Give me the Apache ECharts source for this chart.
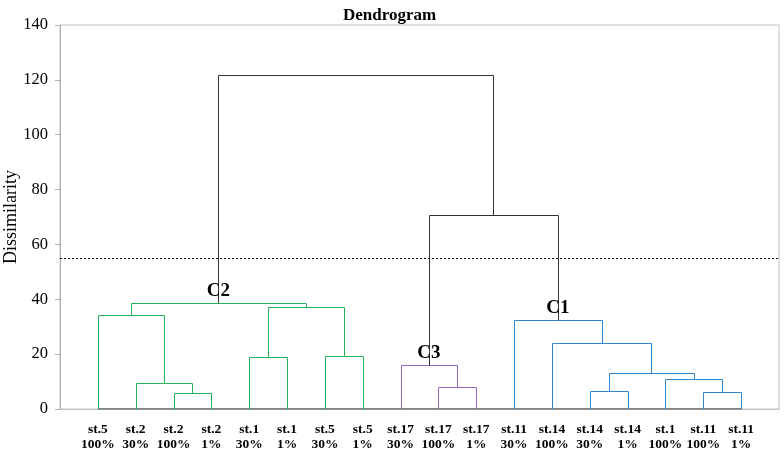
<!DOCTYPE html>
<html>
<head>
<meta charset="utf-8">
<script src="https://cdn.jsdelivr.net/npm/echarts@6/dist/echarts.min.js"></script>
<style>
html,body{margin:0;padding:0;background:#fff;}
#c{width:784px;height:451px;}
</style>
</head>
<body>
<div id="c"></div>
<script>
// Leaves in display order (two-line labels)
var leafNames = ['st.5','st.2','st.2','st.2','st.1','st.1','st.5','st.5','st.17','st.17','st.17','st.11','st.14','st.14','st.14','st.1','st.11','st.11'];
var leafDoses = ['100%','30%','100%','1%','30%','1%','30%','1%','30%','100%','1%','30%','100%','30%','1%','100%','100%','1%'];

// Linkage: node ids 0..17 are leaves, merges create ids 18, 19, ...
var mergeLeft   = [2, 1, 0, 4, 6, 21, 20, 9, 8, 13, 16, 15, 27, 12, 11, 26, 24];
var mergeRight  = [3, 18, 19, 5, 7, 22, 23, 10, 25, 14, 17, 28, 29, 30, 31, 32, 33];
var mergeHeight = [5.7, 9.6, 34.3, 18.9, 19.2, 37.1, 38.8, 8.0, 16.2, 6.7, 6.1, 11.0, 13.1, 24.1, 32.6, 70.8, 121.8];
var mergeGroup  = ['C2','C2','C2','C2','C2','C2','C2','C3','C3','C1','C1','C1','C1','C1','C1','top','top'];

var clusterLabels = ['C2', 'C3', 'C1'];
var clusterNodes  = [24, 26, 32];

var yTicks = [0, 20, 40, 60, 80, 100, 120, 140];
var threshold = 55;

var groupColors = {C2: '#22b058', C3: '#9466c0', C1: '#2f88cf', top: '#333333'};

// Compute node positions from the tree
var nLeaf = leafNames.length;
var nodeX = [], nodeY = [];
for (var i = 0; i < nLeaf; i++) { nodeX.push(i + 1); nodeY.push(0); }
var segData = [];
for (var m = 0; m < mergeLeft.length; m++) {
  var a = mergeLeft[m], b = mergeRight[m], h = mergeHeight[m];
  segData.push([nodeX[a], nodeY[a], nodeX[b], nodeY[b], h, m]);
  nodeX.push((nodeX[a] + nodeX[b]) / 2);
  nodeY.push(h);
}
var labelData = clusterNodes.map(function (id, k) { return [nodeX[id], nodeY[id], k]; });

var serif = '"Liberation Serif", "Times New Roman", serif';

var chart = echarts.init(document.getElementById('c'), null, {renderer: 'canvas'});
chart.setOption({
  animation: false,
  backgroundColor: '#fff',
  title: {
    text: 'Dendrogram', left: 338, top: 2,
    textStyle: {fontFamily: serif, fontWeight: 'bold', fontSize: 17, color: '#000'}
  },
  graphic: [{
    type: 'text', x: 11, y: 217, rotation: Math.PI / 2,
    style: {text: 'Dissimilarity', align: 'center', verticalAlign: 'middle',
            font: '18px ' + serif, fill: '#000'}
  }],
  grid: {left: 60, right: 5, top: 25, bottom: 42, containLabel: false, outerBoundsMode: 'none',
         show: true, borderColor: '#c0c0c0', borderWidth: 1},
  xAxis: {
    type: 'value', min: 0, max: nLeaf + 1, interval: 1,
    axisLine: {show: true, lineStyle: {color: '#c0c0c0'}},
    axisTick: {show: false},
    splitLine: {show: false},
    axisLabel: {
      margin: 13,
      interval: 0,
      hideOverlap: false,
      fontFamily: serif, fontWeight: 'bold', fontSize: 13.5, color: '#000', lineHeight: 15,
      formatter: function (v) {
        var k = Math.round(v) - 1;
        if (k < 0 || k >= nLeaf) return '';
        return leafNames[k] + '\n' + leafDoses[k];
      }
    }
  },
  yAxis: {
    type: 'value', min: yTicks[0], max: yTicks[yTicks.length - 1], interval: 20,
    axisLine: {show: true, lineStyle: {color: '#b0b0b0'}},
    axisTick: {show: true, length: 5, lineStyle: {color: '#b0b0b0'}},
    splitLine: {show: false},
    axisLabel: {fontFamily: serif, fontSize: 16.5, color: '#000', margin: 12}
  },
  series: [
    {
      type: 'line',
      data: [[1, 0], [nLeaf, 0]],
      symbol: 'none',
      lineStyle: {color: '#222', width: 1},
      silent: true,
      z: 3,
      markLine: {
        silent: true, symbol: 'none', label: {show: false},
        lineStyle: {color: '#000', type: [2, 2], width: 1},
        data: [{yAxis: threshold}]
      }
    },
    {
      type: 'custom',
      data: segData,
      z: 4,
      renderItem: function (params, api) {
        var m = api.value(5);
        var p1 = api.coord([api.value(0), api.value(1)]);
        var p2 = api.coord([api.value(0), api.value(4)]);
        var p3 = api.coord([api.value(2), api.value(4)]);
        var p4 = api.coord([api.value(2), api.value(3)]);
        var r = function (p) { return [Math.round(p[0]) + 0.5, Math.round(p[1]) + 0.5]; };
        return {
          type: 'polyline',
          shape: {points: [r(p1), r(p2), r(p3), r(p4)]},
          style: {stroke: groupColors[mergeGroup[m]], lineWidth: 1, fill: null}
        };
      }
    },
    {
      type: 'custom',
      data: labelData,
      z: 5,
      renderItem: function (params, api) {
        var p = api.coord([api.value(0), api.value(1)]);
        return {
          type: 'text',
          style: {
            x: p[0], y: p[1] - 11,
            text: clusterLabels[api.value(2)],
            align: 'center', verticalAlign: 'middle',
            font: 'bold 19px ' + serif,
            fill: '#000'
          }
        };
      }
    }
  ]
});
</script>
</body>
</html>
